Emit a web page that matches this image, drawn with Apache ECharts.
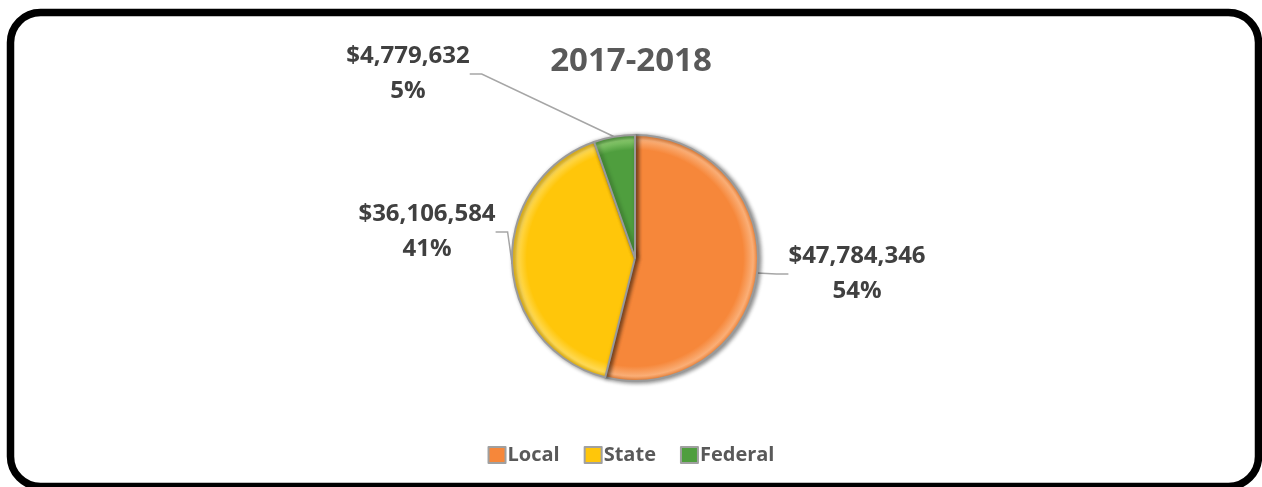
<!DOCTYPE html>
<html>
<head>
<meta charset="utf-8">
<title>2017-2018</title>
<script src="https://cdn.jsdelivr.net/npm/echarts@6/dist/echarts.min.js"></script>
<style>
  html, body { margin: 0; padding: 0; background: #ffffff; }
  #chart { width: 1262px; height: 487px; }
</style>
</head>
<body>
<div id="chart"></div>
<script>
// Revenue sources for the 2017-2018 year
const categories = ['Local', 'State', 'Federal'];
const amounts = [47784346, 36106584, 4779632];
const percentLabels = ['54%', '41%', '5%'];
const chartTitle = '2017-2018';

// Layout constants
const CX = 635, CY = 258, R = 123;
const FONT = '"Open Sans", "Noto Sans", sans-serif';

function bevel(base, rim) {
  return {
    type: 'radial', x: CX, y: CY, r: R, global: true,
    colorStops: [
      { offset: 0, color: base },
      { offset: 0.88, color: base },
      { offset: 0.96, color: rim },
      { offset: 1, color: base }
    ]
  };
}
const sliceColors = [
  bevel('#F6873A', '#FAAE76'),
  bevel('#FFC60A', '#FFDA55'),
  bevel('#4F9E3E', '#86C76A')
];

// Label block centres (pixels) for each slice
const labelPos = [
  { x: 857, y: 274 },
  { x: 427, y: 232 },
  { x: 408, y: 74 }
];

function money(v) {
  return '$' + v.toLocaleString('en-US');
}

const chart = echarts.init(document.getElementById('chart'), null, { renderer: 'canvas' });

chart.setOption({
  backgroundColor: '#ffffff',
  animation: false,
  title: {
    text: chartTitle,
    left: 'center',
    top: 40,
    textStyle: { fontFamily: FONT, fontWeight: 'bold', fontSize: 33, color: '#595959' }
  },
  legend: {
    data: categories,
    left: 'center',
    top: 440,
    itemWidth: 17,
    itemHeight: 16,
    itemGap: 24,
    icon: 'rect',
    itemStyle: { borderColor: '#a0a0a0', borderWidth: 2 },
    textStyle: { fontFamily: FONT, fontWeight: 'bold', fontSize: 20, color: '#595959', padding: [0, 0, 0, -3] }
  },
  graphic: [{
    type: 'rect',
    silent: true,
    shape: { x: 10.5, y: 12.5, width: 1248, height: 474, r: 30 },
    style: { fill: 'none', stroke: '#000000', lineWidth: 7.5 }
  }],
  series: [{
    type: 'pie',
    center: [CX, CY],
    radius: [0, R],
    startAngle: 90,
    clockwise: true,
    avoidLabelOverlap: false,
    data: categories.map((name, i) => ({
      name: name,
      value: amounts[i],
      itemStyle: { color: sliceColors[i] }
    })),
    itemStyle: {
      borderColor: '#9a9a9a',
      borderWidth: 2,
      shadowColor: 'rgba(0,0,0,0.45)',
      shadowBlur: 4,
      shadowOffsetX: 2,
      shadowOffsetY: 1
    },
    label: {
      show: true,
      position: 'outside',
      formatter: (p) => money(amounts[p.dataIndex]) + '\n' + percentLabels[p.dataIndex],
      fontFamily: FONT,
      fontWeight: 'bold',
      fontSize: 24,
      lineHeight: 35,
      color: '#404040',
      align: 'center'
    },
    labelLine: {
      show: true,
      length: 12,
      length2: 12,
      lineStyle: { color: '#a6a6a6', width: 1.5 }
    },
    labelLayout: (params) => ({
      x: labelPos[params.dataIndex].x,
      y: labelPos[params.dataIndex].y,
      align: 'center',
      verticalAlign: 'middle'
    }),
    emphasis: { disabled: true }
  }]
});
</script>
</body>
</html>
